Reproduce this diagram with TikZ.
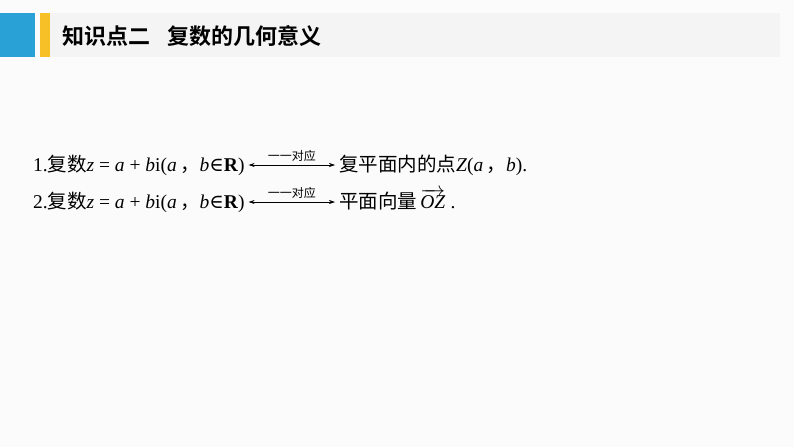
\documentclass[tikz,border=0pt]{standalone}
\usepackage{fontspec}
\setmainfont{Liberation Serif}
\newfontfamily\cjk{Noto Sans CJK SC}
\newfontfamily\cjkb{Noto Sans CJK SC Bold}
\newfontfamily\symf{DejaVu Serif}
\usetikzlibrary{arrows.meta}
\definecolor{hblue}{RGB}{41,160,214}
\definecolor{hyel}{RGB}{247,192,38}
\begin{document}
\begin{tikzpicture}[x=1pt,y=-1pt,
  txt/.style={inner sep=0pt,outer sep=0pt,font=\fontsize{19.5}{22}\selectfont,anchor=base west},
  corr/.style={{Stealth[length=6pt,width=4pt]}-{Stealth[length=6pt,width=4pt]},line width=0.6pt},
  lab/.style={above=3pt,inner sep=0pt,font=\cjk\fontsize{12}{13}\selectfont}]
\useasboundingbox (0,0) rectangle (794,447);
\fill[white!97!gray] (0,0) rectangle (794,447);
\fill[gray!9] (50,13) rectangle (780,57);
\fill[hblue] (0,13) rectangle (35,57);
\fill[hyel] (40,13) rectangle (50,57);
\node[anchor=west,inner sep=0pt,font=\cjkb\fontsize{22}{24}\selectfont] (title) at (62,36) {知识点二\hspace{0.8em}复数的几何意义};
% line 1
\node[txt] (l1) at (33,171) {1.{\cjk 复数}\textit{z} = \textit{a} + \textit{b}i(\textit{a}\,{\cjk ，}\textit{b}{\symf ∈}\textbf{R})};
\node[txt] (r1) at (339,171) {{\cjk 复平面内的点}\textit{Z}(\textit{a}\,{\cjk ，}\textit{b}).};
\draw[corr] ([xshift=4pt,yshift=6pt]l1.base east) -- node[lab] (c1) {一一对应} ([xshift=-4pt,yshift=6pt]r1.base west);
% line 2
\node[txt] (l2) at (33,208) {2.{\cjk 复数}\textit{z} = \textit{a} + \textit{b}i(\textit{a}\,{\cjk ，}\textit{b}{\symf ∈}\textbf{R})};
\node[txt] (r2) at (339,208) {{\cjk 平面向量}\,$\overrightarrow{\textit{OZ}}$\;.};
\draw[corr] ([xshift=4pt,yshift=6pt]l2.base east) -- node[lab] (c2) {一一对应} ([xshift=-4pt,yshift=6pt]r2.base west);
\end{tikzpicture}
\end{document}
